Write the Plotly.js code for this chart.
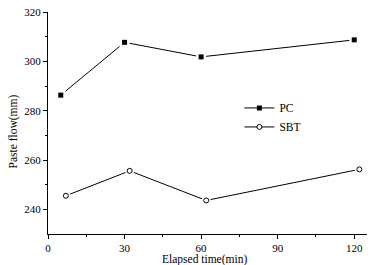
<!DOCTYPE html>
<html>
<head>
<meta charset="utf-8">
<script src="https://cdn.plot.ly/plotly-3.0.1.min.js"></script>
<style>html,body{margin:0;padding:0;background:#fff;}#chart{width:380px;height:265px;}</style>
</head>
<body>
<div id="chart"></div>
<script>
var pcTime = [5, 30, 60, 120];
var pcFlow = [286.3, 307.7, 301.8, 308.7];
var sbtTime = [7, 32, 62, 122];
var sbtFlow = [245.5, 255.6, 243.6, 256.2];
var xTicks = [0, 30, 60, 90, 120];
var yTicks = [240, 260, 280, 300, 320];

var font = {family: 'Liberation Serif, Times New Roman, serif', size: 11, color: '#000'};
var titleFont = {family: 'Liberation Serif, Times New Roman, serif', size: 11.5, color: '#000'};

var traces = [
  {x: pcTime, y: pcFlow, mode: 'lines', line: {color: '#000', width: 1}, showlegend: false, hoverinfo: 'skip'},
  {x: sbtTime, y: sbtFlow, mode: 'lines', line: {color: '#000', width: 1}, showlegend: false, hoverinfo: 'skip'},
  {x: pcTime, y: pcFlow, mode: 'markers', marker: {symbol: 'square', size: 10, color: '#fff'}, showlegend: false, hoverinfo: 'skip'},
  {x: sbtTime, y: sbtFlow, mode: 'markers', marker: {symbol: 'circle', size: 9, color: '#fff'}, showlegend: false, hoverinfo: 'skip'},
  {x: pcTime, y: pcFlow, name: 'PC', mode: 'markers', marker: {symbol: 'square', size: 5, color: '#000'}, showlegend: false},
  {x: sbtTime, y: sbtFlow, name: 'SBT', mode: 'markers', marker: {symbol: 'circle', size: 5, color: '#fff', line: {color: '#000', width: 1}}, showlegend: false},
  {x: [null], y: [null], name: 'PC', mode: 'lines+markers', line: {color: '#000', width: 1}, marker: {symbol: 'square', size: 5, color: '#000'}},
  {x: [null], y: [null], name: 'SBT', mode: 'lines+markers', line: {color: '#000', width: 1}, marker: {symbol: 'circle', size: 5, color: '#fff', line: {color: '#000', width: 1}}}
];

var layout = {
  width: 380, height: 265,
  margin: {l: 48, r: 13, t: 12, b: 31},
  paper_bgcolor: '#fff', plot_bgcolor: '#fff',
  font: font,
  showlegend: true,
  legend: {x: 0.6, y: 0.525, xanchor: 'left', yanchor: 'middle', bgcolor: 'rgba(0,0,0,0)', font: titleFont, itemwidth: 30, tracegroupgap: 0},
  xaxis: {
    range: [0, 125], tickvals: xTicks, ticktext: xTicks.map(String),
    showline: true, linecolor: '#000', linewidth: 1, mirror: false,
    ticks: 'outside', ticklen: 4, tickcolor: '#000', tickwidth: 1,
    showgrid: false, zeroline: false,
    minor: {tickvals: [15, 45, 75, 105], ticks: 'outside', ticklen: 2, tickcolor: '#000', showgrid: false},
    tickfont: font
  },
  yaxis: {
    range: [230, 320], tickvals: yTicks, ticktext: yTicks.map(String),
    showline: true, linecolor: '#000', linewidth: 1, mirror: false,
    ticks: 'outside', ticklen: 4, tickcolor: '#000', tickwidth: 1,
    showgrid: false, zeroline: false,
    minor: {tickvals: [250, 270, 290, 310], ticks: 'outside', ticklen: 2, tickcolor: '#000', showgrid: false},
    tickfont: font
  },
  annotations: [
    {text: 'Elapsed time(min)', xref: 'paper', yref: 'paper', x: 0.49, y: -25/222, xanchor: 'center', yanchor: 'middle', showarrow: false, font: titleFont},
    {text: 'Paste flow(mm)', xref: 'paper', yref: 'paper', x: -35/319, y: 0.462, xanchor: 'center', yanchor: 'middle', textangle: -90, showarrow: false, font: titleFont}
  ]
};

Plotly.newPlot('chart', traces, layout, {displayModeBar: false, staticPlot: true});
</script>
</body>
</html>
